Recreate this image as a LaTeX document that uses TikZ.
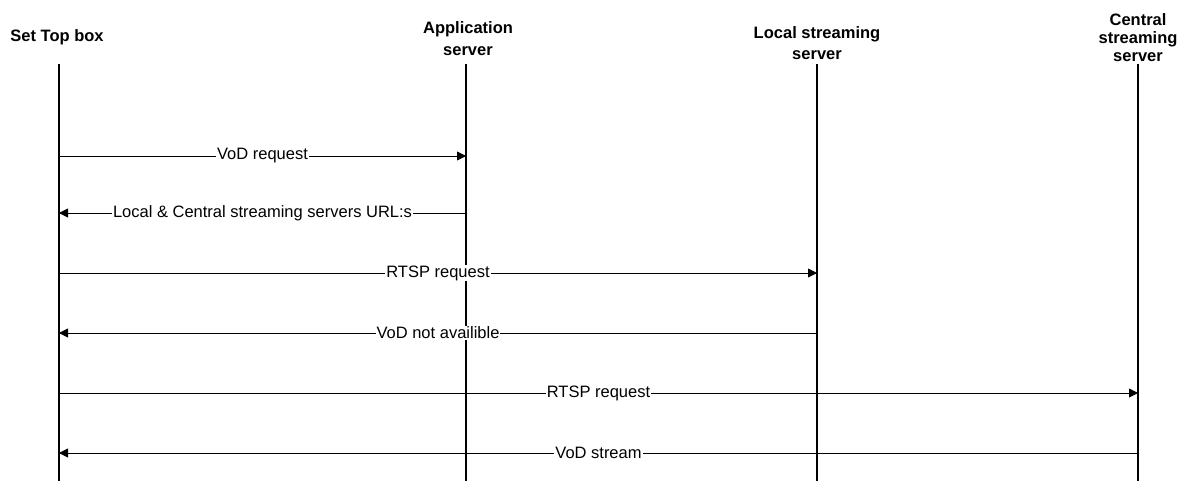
\documentclass[tikz,border=0pt]{standalone}
\usepackage{fontspec}
\setmainfont{Liberation Sans}
\usetikzlibrary{arrows.meta}
\begin{document}
\begin{tikzpicture}[x=1pt,y=-1pt,
  head/.style={font=\fontsize{16.5}{21}\selectfont\bfseries, align=center, inner sep=0pt},
  life/.style={line width=1.8pt},
  msg/.style={line width=0.8pt, -{Triangle[length=9pt,width=9pt]}},
  lbl/.style={fill=white, inner sep=1pt, font=\fontsize{16.5}{18}\selectfont}]
\useasboundingbox (0,0) rectangle (1185,481);
% headers
\node[head] (h1) at (57,37) {Set Top box};
\node[head] (h2) at (468,39) {Application\\[1pt]server};
\node[head] (h3) at (817,43) {Local streaming\\server};
\node[head, font=\fontsize{16.5}{18}\selectfont\bfseries] (h4) at (1138,38) {Central\\streaming\\server};
% lifelines
\coordinate (t1) at (59,64);  \coordinate (b1) at (59,481);
\coordinate (t2) at (466,64); \coordinate (b2) at (466,481);
\coordinate (t3) at (817,64); \coordinate (b3) at (817,481);
\coordinate (t4) at (1138,64);\coordinate (b4) at (1138,481);
\draw[life] (t1) -- (b1);
\draw[life] (t2) -- (b2);
\draw[life] (t3) -- (b3);
\draw[life] (t4) -- (b4);
% message anchor points
\foreach \i/\y in {a/156,b/213,c/273,d/333,e/393,f/453}{
  \coordinate (\i1) at (59,\y);
  \coordinate (\i2) at (466,\y);
  \coordinate (\i3) at (817,\y);
  \coordinate (\i4) at (1138,\y);
}
% messages
\draw[msg] (a1) -- (a2) node[lbl, midway] (m1) {VoD request};
\draw[msg] (b2) -- (b1) node[lbl, midway] (m2) {Local \& Central streaming servers URL:s};
\draw[msg] (c1) -- (c3) node[lbl, midway] (m3) {RTSP request};
\draw[msg] (d3) -- (d1) node[lbl, midway] (m4) {VoD not availible};
\draw[msg] (e1) -- (e4) node[lbl, midway] (m5) {RTSP request};
\draw[msg] (f4) -- (f1) node[lbl, midway] (m6) {VoD stream};
\end{tikzpicture}
\end{document}
